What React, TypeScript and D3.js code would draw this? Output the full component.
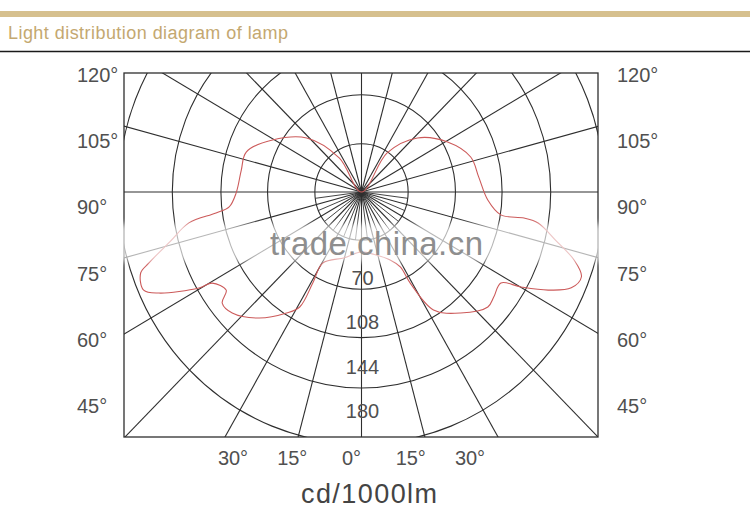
import React, { useRef, useEffect } from 'react';
import * as d3 from 'd3';

// ring radii as drawn (cd/1000lm) and the numbers printed beside them
const ringValues = [35.5, 71.5, 107, 144, 185];
const ringLabels = ['70', '108', '144', '180'];

// radial grid every 15deg, extra spokes near the centre in the lower half
const spokeAngles = d3.range(0, 360, 15);
const minorSpokeAngles = d3.range(-82.5, 90, 15);

const sideLabels = ['120°', '105°', '90°', '75°', '60°', '45°'];
const bottomLabels = ['30°', '15°', '0°', '15°', '30°'];

// intensity curve, angle measured from straight down
const rightAngles = [0, 12, 23.6, 28.2, 29, 32.3, 40.3, 48.7, 52.6, 57.8, 60.1, 63.1, 66.2, 69.6, 72.8, 76.5, 80.4, 81.2, 81, 86.5, 97, 107.2, 119.3, 133, 145.8, 150];
const rightValues = [44, 47, 54.5, 62.5, 76.5, 102.5, 116.6, 128, 126.8, 125.4, 140, 159.3, 174.5, 178.6, 169.5, 152, 136.3, 125.2, 107.4, 96.3, 89.9, 87, 75.1, 58.2, 34.7, 0];
const leftAngles = [0, 15, 29.5, 29, 29.1, 32.7, 40, 47.9, 52.4, 55, 59.5, 60.3, 64.3, 66.5, 70.5, 72.1, 76, 80.2, 82.1, 83.8, 89.6, 100, 108.5, 119.4, 133.6, 146, 150];
const leftValues = [44, 50, 60, 76.5, 96.7, 105.6, 120.9, 132.6, 133.8, 125.7, 131.9, 142.4, 171.2, 180.8, 178.3, 170.2, 150, 133.3, 111.8, 101.3, 95.4, 92.9, 92.5, 77.8, 57.6, 30, 0];

export default function App() {
  const svgRef = useRef<SVGSVGElement>(null);

  useEffect(() => {
    if (!svgRef.current) return;
    const svg = d3.select(svgRef.current);
    svg.selectAll('*').remove();

    const width = 750;
    const height = 510;
    const font = '"Liberation Sans", Arial, sans-serif';
    const box = { left: 124, right: 598, top: 73, bottom: 437 };
    const cx = 361.5;
    const cy = 192;
    const gridColor = '#2e2e2e';
    const textColor = '#505050';

    const rx = d3.scaleLinear().domain([0, 180]).range([0, 236.5]);
    const ry = d3.scaleLinear().domain([0, 180]).range([0, 245]);
    const toRad = (a: number) => (a * Math.PI) / 180;
    const px = (a: number, v: number, side: number) => cx + side * rx(v) * Math.sin(toRad(a));
    const py = (a: number, v: number) => cy + ry(v) * Math.cos(toRad(a));

    svg.attr('width', width).attr('height', height);

    // header
    svg.append('rect').attr('x', 0).attr('y', 0).attr('width', width).attr('height', height).attr('fill', '#fff');
    svg.append('rect').attr('x', 0).attr('y', 11).attr('width', width).attr('height', 6).attr('fill', '#d6c08e');
    svg.append('text')
      .attr('x', 8).attr('y', 39)
      .attr('textLength', 280)
      .style('font-family', font).style('font-size', '18px')
      .style('fill', '#c4a870')
      .text('Light distribution diagram of lamp');
    svg.append('line')
      .attr('x1', 0).attr('x2', width).attr('y1', 51.5).attr('y2', 51.5)
      .attr('stroke', '#1a1a1a').attr('stroke-width', 1.5);

    const defs = svg.append('defs');
    defs.append('clipPath').attr('id', 'plot-clip')
      .append('rect')
      .attr('x', box.left).attr('y', box.top)
      .attr('width', box.right - box.left).attr('height', box.bottom - box.top);

    const g = svg.append('g').attr('clip-path', 'url(#plot-clip)');

    // rings
    g.selectAll('.ring')
      .data(ringValues)
      .enter()
      .append('ellipse')
      .attr('cx', cx).attr('cy', cy)
      .attr('rx', d => rx(d)).attr('ry', d => ry(d))
      .attr('fill', 'none').attr('stroke', gridColor).attr('stroke-width', 1.1);

    // spokes
    g.selectAll('.spoke')
      .data(spokeAngles)
      .enter()
      .append('line')
      .attr('x1', cx).attr('y1', cy)
      .attr('x2', d => px(d, 500, 1)).attr('y2', d => py(d, 500))
      .attr('stroke', gridColor).attr('stroke-width', 1.1);

    g.selectAll('.minor-spoke')
      .data(minorSpokeAngles)
      .enter()
      .append('line')
      .attr('x1', cx).attr('y1', cy)
      .attr('x2', d => px(d, ringValues[0], 1)).attr('y2', d => py(d, ringValues[0]))
      .attr('stroke', gridColor).attr('stroke-width', 0.9);

    // intensity curve
    const rightPts = rightAngles.map((a, i) => [px(a, rightValues[i], 1), py(a, rightValues[i])] as [number, number]);
    const leftPts = leftAngles.map((a, i) => [px(a, leftValues[i], -1), py(a, leftValues[i])] as [number, number]);
    const loop = rightPts.concat(leftPts.slice(1, -1).reverse());
    const curve = d3.line().curve(d3.curveCatmullRomClosed.alpha(0.5));
    g.append('path')
      .attr('d', curve(loop))
      .attr('fill', 'none')
      .attr('stroke', '#cc5a5a')
      .attr('stroke-width', 1.1);

    // frame
    svg.append('rect')
      .attr('x', box.left).attr('y', box.top)
      .attr('width', box.right - box.left).attr('height', box.bottom - box.top)
      .attr('fill', 'none').attr('stroke', gridColor).attr('stroke-width', 1.3);

    // ring labels along the lower axis
    const ringLabelY = d3.scalePoint().domain(ringLabels).range([285, 418]);
    svg.selectAll('.ring-label')
      .data(ringLabels)
      .enter()
      .append('text')
      .attr('x', cx + 1)
      .attr('y', d => ringLabelY(d) || 0)
      .attr('text-anchor', 'middle')
      .style('font-family', font).style('font-size', '20px').style('fill', textColor)
      .text(d => d);

    // side angle labels
    const sideY = d3.scalePoint().domain(sideLabels).range([82, 413]);
    [77, 617].forEach(x => {
      svg.selectAll(null)
        .data(sideLabels)
        .enter()
        .append('text')
        .attr('x', x)
        .attr('y', d => sideY(d) || 0)
        .style('font-family', font).style('font-size', '20px').style('fill', textColor)
        .text(d => d);
    });

    // bottom angle labels
    const bottomX = d3.scalePoint().domain(d3.range(bottomLabels.length).map(String)).range([233, 470]);
    svg.selectAll('.bottom-label')
      .data(bottomLabels)
      .enter()
      .append('text')
      .attr('x', (d, i) => bottomX(String(i)) || 0)
      .attr('y', 465)
      .attr('text-anchor', 'middle')
      .style('font-family', font).style('font-size', '20px').style('fill', textColor)
      .text(d => d);

    svg.append('text')
      .attr('x', 369).attr('y', 503)
      .attr('text-anchor', 'middle')
      .attr('textLength', 136)
      .style('font-family', font).style('font-size', '27px').style('fill', '#444')
      .text('cd/1000lm');

    // watermark band
    defs.append('filter').attr('id', 'soft')
      .attr('x', '-5%').attr('y', '-50%').attr('width', '110%').attr('height', '200%')
      .append('feGaussianBlur').attr('stdDeviation', 3);
    svg.append('rect')
      .attr('x', 110).attr('y', 224).attr('width', 500).attr('height', 38)
      .attr('fill', '#fff').attr('opacity', 0.65).attr('filter', 'url(#soft)');
    svg.append('text')
      .attr('x', 270).attr('y', 255)
      .attr('textLength', 213)
      .style('font-family', font).style('font-size', '33px').style('fill', '#8e8e8e')
      .text('trade.china.cn');
  }, []);

  return (
    <div style={{ position: 'absolute', left: 0, top: 0 }}>
      <svg ref={svgRef} width={750} height={510} style={{ display: 'block' }} />
    </div>
  );
}
